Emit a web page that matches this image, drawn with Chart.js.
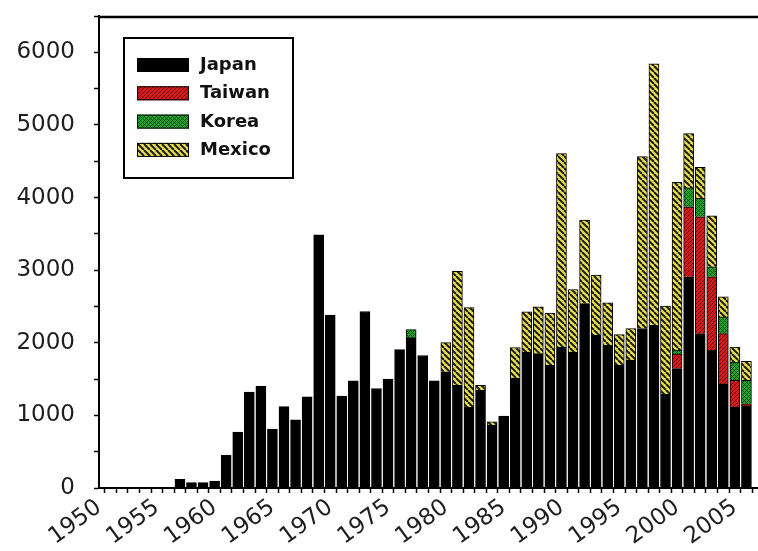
<!DOCTYPE html>
<html>
<head>
<meta charset="utf-8">
<script src="https://cdn.jsdelivr.net/npm/chart.js@4"></script>
<style>
html,body{margin:0;padding:0;background:#fff;}
#wrap{width:758px;height:551px;position:relative;}
</style>
</head>
<body>
<div id="wrap"><canvas id="c" width="758" height="551"></canvas></div>
<script>
const years = [1950,1951,1952,1953,1954,1955,1956,1957,1958,1959,
  1960,1961,1962,1963,1964,1965,1966,1967,1968,1969,
  1970,1971,1972,1973,1974,1975,1976,1977,1978,1979,
  1980,1981,1982,1983,1984,1985,1986,1987,1988,1989,
  1990,1991,1992,1993,1994,1995,1996,1997,1998,1999,
  2000,2001,2002,2003,2004,2005,2006];

const japan = [0,0,0,0,0,0,0,120,75,75,
  95,450,770,1320,1405,810,1120,940,1255,3485,
  2380,1265,1475,2430,1370,1500,1905,2070,1825,1475,
  1600,1415,1115,1345,865,990,1515,1873,1850,1690,
  1940,1873,2540,2103,1966,1690,1759,2196,2241,1290,
  1644,2908,2127,1897,1430,1115,1130];

const taiwan = [0,0,0,0,0,0,0,0,0,0,
  0,0,0,0,0,0,0,0,0,0,
  0,0,0,0,0,0,0,0,0,0,
  0,0,0,0,0,0,0,0,0,0,
  0,0,0,0,0,0,0,0,0,0,
  200,965,1608,1011,697,368,30];

const korea = [0,0,0,0,0,0,0,0,0,0,
  0,0,0,0,0,0,0,0,0,0,
  0,0,0,0,0,0,0,110,0,0,
  0,0,0,0,0,0,0,0,0,0,
  0,0,0,0,0,0,0,0,0,0,
  55,260,254,138,229,252,322];

const mexico = [0,0,0,0,0,0,0,0,0,0,
  0,0,0,0,0,0,0,0,0,0,
  0,0,0,0,0,0,0,0,0,0,
  403,1570,1370,70,45,0,420,552,644,720,
  2665,861,1150,828,583,423,437,2367,3600,1215,
  2310,749,428,703,276,207,262];

const seriesNames = ['Japan','Taiwan','Korea','Mexico'];
const yTickLabels = [0,1000,2000,3000,4000,5000,6000];

function makePattern(size, bg, draw){
  const c = document.createElement('canvas');
  c.width = size; c.height = size;
  const g = c.getContext('2d');
  g.fillStyle = bg; g.fillRect(0,0,size,size);
  draw(g, size);
  return document.getElementById('c').getContext('2d').createPattern(c,'repeat');
}
const patJapan = '#000000';
const patTaiwan = makePattern(4,'#d41a1a',(g,s)=>{
  g.strokeStyle='#6e0808'; g.lineWidth=1;
  for(const k of [-s,0,s]){ g.beginPath(); g.moveTo(k,s); g.lineTo(k+s,0); g.stroke(); }
});
const patKorea = makePattern(4,'#22a52a',(g,s)=>{
  g.fillStyle='#0b4d10';
  g.fillRect(0,0,1,1); g.fillRect(2,2,1,1); g.fillRect(1,1,1,1); g.fillRect(3,3,1,1);
  g.fillRect(3,1,1,1); g.fillRect(1,3,1,1);
});
const patMexico = makePattern(6,'#e9e14c',(g,s)=>{
  g.strokeStyle='#1c1c1c'; g.lineWidth=2;
  for(const k of [-s,0,s]){ g.beginPath(); g.moveTo(k,0); g.lineTo(k+s,s); g.stroke(); }
});
const fills = [patJapan, patTaiwan, patKorea, patMexico];
const seriesValues = [japan, taiwan, korea, mexico];

const tickFont = {family:'DejaVu Sans', size:23};
const tickColor = '#1e1e1e';

const topBorder = {
  id:'topBorder',
  afterDraw(chart){
    const {ctx, chartArea:a} = chart;
    ctx.save();
    ctx.strokeStyle='#000'; ctx.lineWidth=2.5;
    ctx.beginPath(); ctx.moveTo(a.left, a.top+1); ctx.lineTo(a.right, a.top+1); ctx.stroke();
    ctx.restore();
  }
};

const boxLegend = {
  id:'boxLegend',
  afterDraw(chart){
    const {ctx, chartArea:a} = chart;
    const bx = a.left+25, by = a.top+22, bw = 169, bh = 140;
    ctx.save();
    ctx.fillStyle='#fff'; ctx.fillRect(bx,by,bw,bh);
    ctx.strokeStyle='#000'; ctx.lineWidth=2;
    ctx.strokeRect(bx,by,bw,bh);
    ctx.font = 'bold 18px "DejaVu Sans"';
    ctx.textBaseline='middle'; ctx.textAlign='left';
    chart.data.datasets.forEach((ds,i)=>{
      const sy = by + 20 + i*28.3;
      ctx.fillStyle = ds.backgroundColor;
      ctx.fillRect(bx+13, sy, 52, 14);
      ctx.strokeStyle='#000'; ctx.lineWidth=1;
      ctx.strokeRect(bx+13.5, sy+0.5, 51, 13);
      ctx.fillStyle='#111';
      ctx.fillText(ds.label, bx+76, sy+7.5);
    });
    ctx.restore();
  }
};

new Chart(document.getElementById('c'), {
  type:'bar',
  data:{
    datasets: seriesNames.map((name,i)=>({
      label:name,
      data: years.map((yr,j)=>({x:yr, y:seriesValues[i][j]})),
      backgroundColor: fills[i],
      borderColor:'#000',
      borderWidth: 1,
      borderSkipped:'start',
      barThickness: 10
    }))
  },
  options:{
    responsive:false,
    animation:false,
    events:[],
    layout:{padding:{top:16, right:0, left:0, bottom:0}},
    plugins:{legend:{display:false}, tooltip:{enabled:false}, title:{display:false}},
    scales:{
      x:{
        type:'linear', min:1950, max:2007, stacked:true, offset:false,
        ticks:{stepSize:1, autoSkip:false, minRotation:36, maxRotation:36, padding:1,
          font:tickFont, color:tickColor,
          callback:(v)=> (v%5===0 && v<=2005) ? String(v) : ''},
        grid:{drawOnChartArea:false, drawTicks:true, tickLength:5, tickColor:'#000', tickWidth:1.5},
        border:{display:true, color:'#000', width:2},
        afterFit:(s)=>{ s.height = 63; s.paddingLeft = 0; s.paddingRight = 0; }
      },
      y:{
        type:'linear', min:0, max:6500, stacked:true,
        ticks:{stepSize:250, padding:19, font:tickFont, color:tickColor,
          callback:(v)=> yTickLabels.includes(v) ? String(v) : ''},
        grid:{drawOnChartArea:false, drawTicks:true, tickLength:5, tickColor:'#000', tickWidth:1.5},
        border:{display:true, color:'#000', width:2},
        afterFit:(s)=>{ s.width = 99; s.paddingTop = 0; s.paddingBottom = 0; }
      }
    }
  },
  plugins:[topBorder, boxLegend]
});
</script>
</body>
</html>
